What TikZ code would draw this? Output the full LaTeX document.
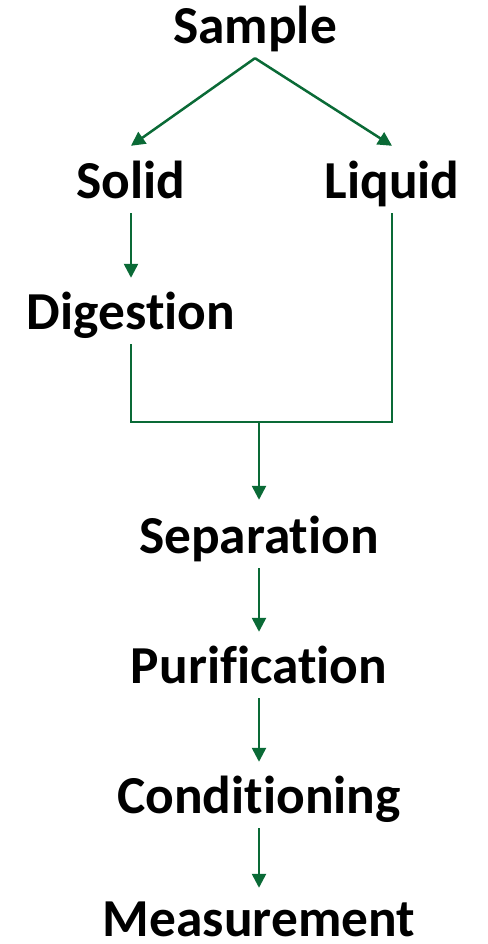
\documentclass[tikz,border=0pt]{standalone}
\usepackage{fontspec}
\setmainfont{Carlito}[Ligatures=NoCommon]
\usetikzlibrary{arrows.meta,calc}
\definecolor{flowgreen}{RGB}{10,106,54}
\begin{document}
\begin{tikzpicture}[x=1pt,y=1pt,
  stage/.style={anchor=base,font=\bfseries\fontsize{53.4}{60}\selectfont,
    text height=36pt,text depth=11pt,inner xsep=0pt,inner ysep=3pt},
  link/.style={draw=flowgreen,line width=2.5pt},
  flow/.style={link,-{Triangle[length=14pt,width=14pt]}}]
\useasboundingbox (0,0) rectangle (487,944);
% process stages
\node[stage] (sample)       at (255,900) {Sample};
\node[stage] (solid)        at (131,745) {Solid};
\node[stage] (liquid)       at (392,745) {Liquid};
\node[stage] (digestion)    at (131,614) {Digestion};
\node[stage] (separation)   at (259,390) {Separation};
\node[stage] (purification) at (259,260) {Purification};
\node[stage] (conditioning) at (259,130) {Conditioning};
\node[stage,text depth=0pt] (measurement) at (259,7) {Measurement};
\coordinate (merge) at (259,522);
% branching of the sample
\draw[flow] (sample.south) -- ([yshift=14pt]solid.north);
\draw[flow] (sample.south) -- ([yshift=14pt]liquid.north);
\draw[flow] (solid.south) -- ([yshift=13pt]digestion.north);
% both branches join before separation
\draw[link] (digestion.south) -- (digestion.south |- merge) -- (merge -| liquid.south) -- (liquid.south);
\draw[flow] (merge) -- ([yshift=15pt]separation.north);
% main line
\draw[flow] (separation.south) -- ([yshift=13pt]purification.north);
\draw[flow] (purification.south) -- ([yshift=13pt]conditioning.north);
\draw[flow] (conditioning.south) -- ([yshift=10pt]measurement.north);
\end{tikzpicture}
\end{document}
